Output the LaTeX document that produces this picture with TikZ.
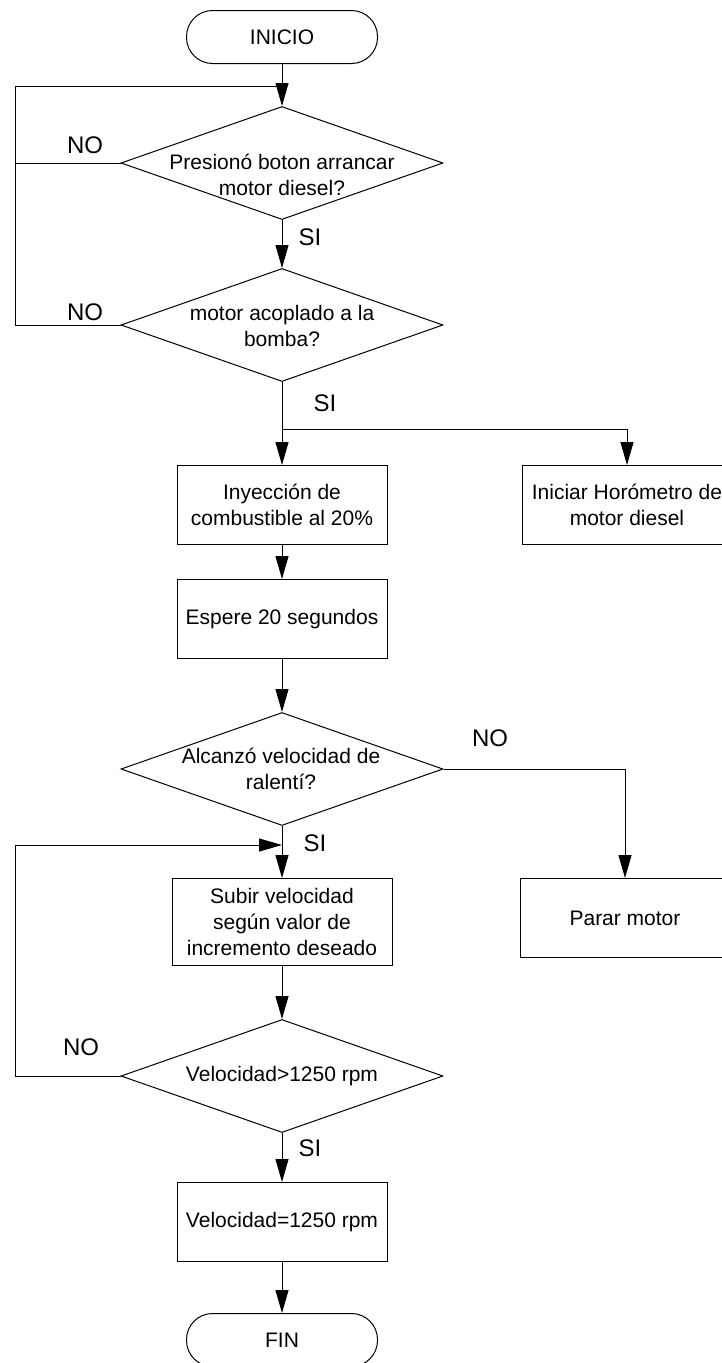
\documentclass[tikz,border=0pt]{standalone}
\usepackage{fontspec}
\setmainfont{Liberation Sans}
\usetikzlibrary{arrows.meta,shapes.geometric,calc}
\begin{document}
\begin{tikzpicture}[x=1pt,y=-1pt,
  line width=1pt,
  arr/.style={-{Triangle[length=23pt,width=13pt]}},
  proc/.style={draw,rectangle,minimum width=210pt,minimum height=79pt,inner sep=0pt,align=center,font=\fontsize{21}{26}\selectfont},
  term/.style={draw,rounded corners=26pt,minimum width=191pt,minimum height=53pt,inner sep=0pt,font=\fontsize{21}{26}\selectfont},
  dec/.style={draw,diamond,minimum width=322pt,minimum height=113pt,inner sep=0pt},
  dtext/.style={align=center,inner sep=0pt,font=\fontsize{21}{26}\selectfont},
  lab/.style={inner sep=0pt,font=\fontsize{24}{28}\selectfont}]
\useasboundingbox (0,0) rectangle (722,1363);

% nodes of the flow
\node[term] (start) at (282,37) {INICIO};
\node[dec] (d1) at (282,163) {};
\node[dtext] (t1) at (282,175) {Presionó boton arrancar\\motor diesel?};
\node[dec] (d2) at (282,325) {};
\node[dtext] (t2) at (282,326) {motor acoplado a la\\bomba?};
\node[proc] (iny) at (282,505) {Inyección de\\combustible al 20\%};
\node[proc] (hor) at (627,505) {Iniciar Horómetro de\\motor diesel};
\node[proc] (esp) at (282,619) {Espere 20 segundos};
\node[dec] (d3) at (282,769) {};
\node[dtext] (t3) at (281,769) {Alcanzó velocidad de\\ralentí?};
\node[proc] (par) at (625,918) {Parar motor};
\node[proc,minimum width=220pt,minimum height=87pt] (sub) at (282,922) {Subir velocidad\\según valor de\\incremento deseado};
\node[dec] (d4) at (282,1076) {};
\node[dtext] (t4) at (282,1076) {Velocidad>1250 rpm};
\node[proc] (vel) at (282,1222) {Velocidad=1250 rpm};
\node[term] (fin) at (282,1340) {FIN};

% helper points for the loops and the branch
\coordinate (lx) at (15,0);
\coordinate (j1) at (282,86);
\coordinate (br) at (282,429);
\coordinate (j2) at (282,845);

% connectors
\draw[arr] (start.south) -- (d1.north);
\draw[arr] (d1.south) -- (d2.north);
\draw (d1.west) -- (d1.west -| lx);
\draw (d2.west) -- (d2.west -| lx) -- (lx |- j1) -- (j1);
\draw[arr] (d2.south) -- (iny.north);
\draw[arr] (br) -| (hor.north);
\draw[arr] (iny.south) -- (esp.north);
\draw[arr] (esp.south) -- (d3.north);
\draw[arr] (d3.east) -| (par.north);
\draw[arr] (d3.south) -- (sub.north);
\draw[arr] (d4.west) -- (d4.west -| lx) |- (j2);
\draw[arr] (sub.south) -- (d4.north);
\draw[arr] (d4.south) -- (vel.north);
\draw[arr] (vel.south) -- (fin.north);

% branch labels
\node[lab] (no1) at (85,145) {NO};
\node[lab] (no2) at (85,312) {NO};
\node[lab] (si1) at (310,237) {SI};
\node[lab] (si2) at (325,403) {SI};
\node[lab] (no3) at (490,738) {NO};
\node[lab] (si3) at (315,843) {SI};
\node[lab] (no4) at (81,1047) {NO};
\node[lab] (si4) at (310,1148) {SI};
\end{tikzpicture}
\end{document}
